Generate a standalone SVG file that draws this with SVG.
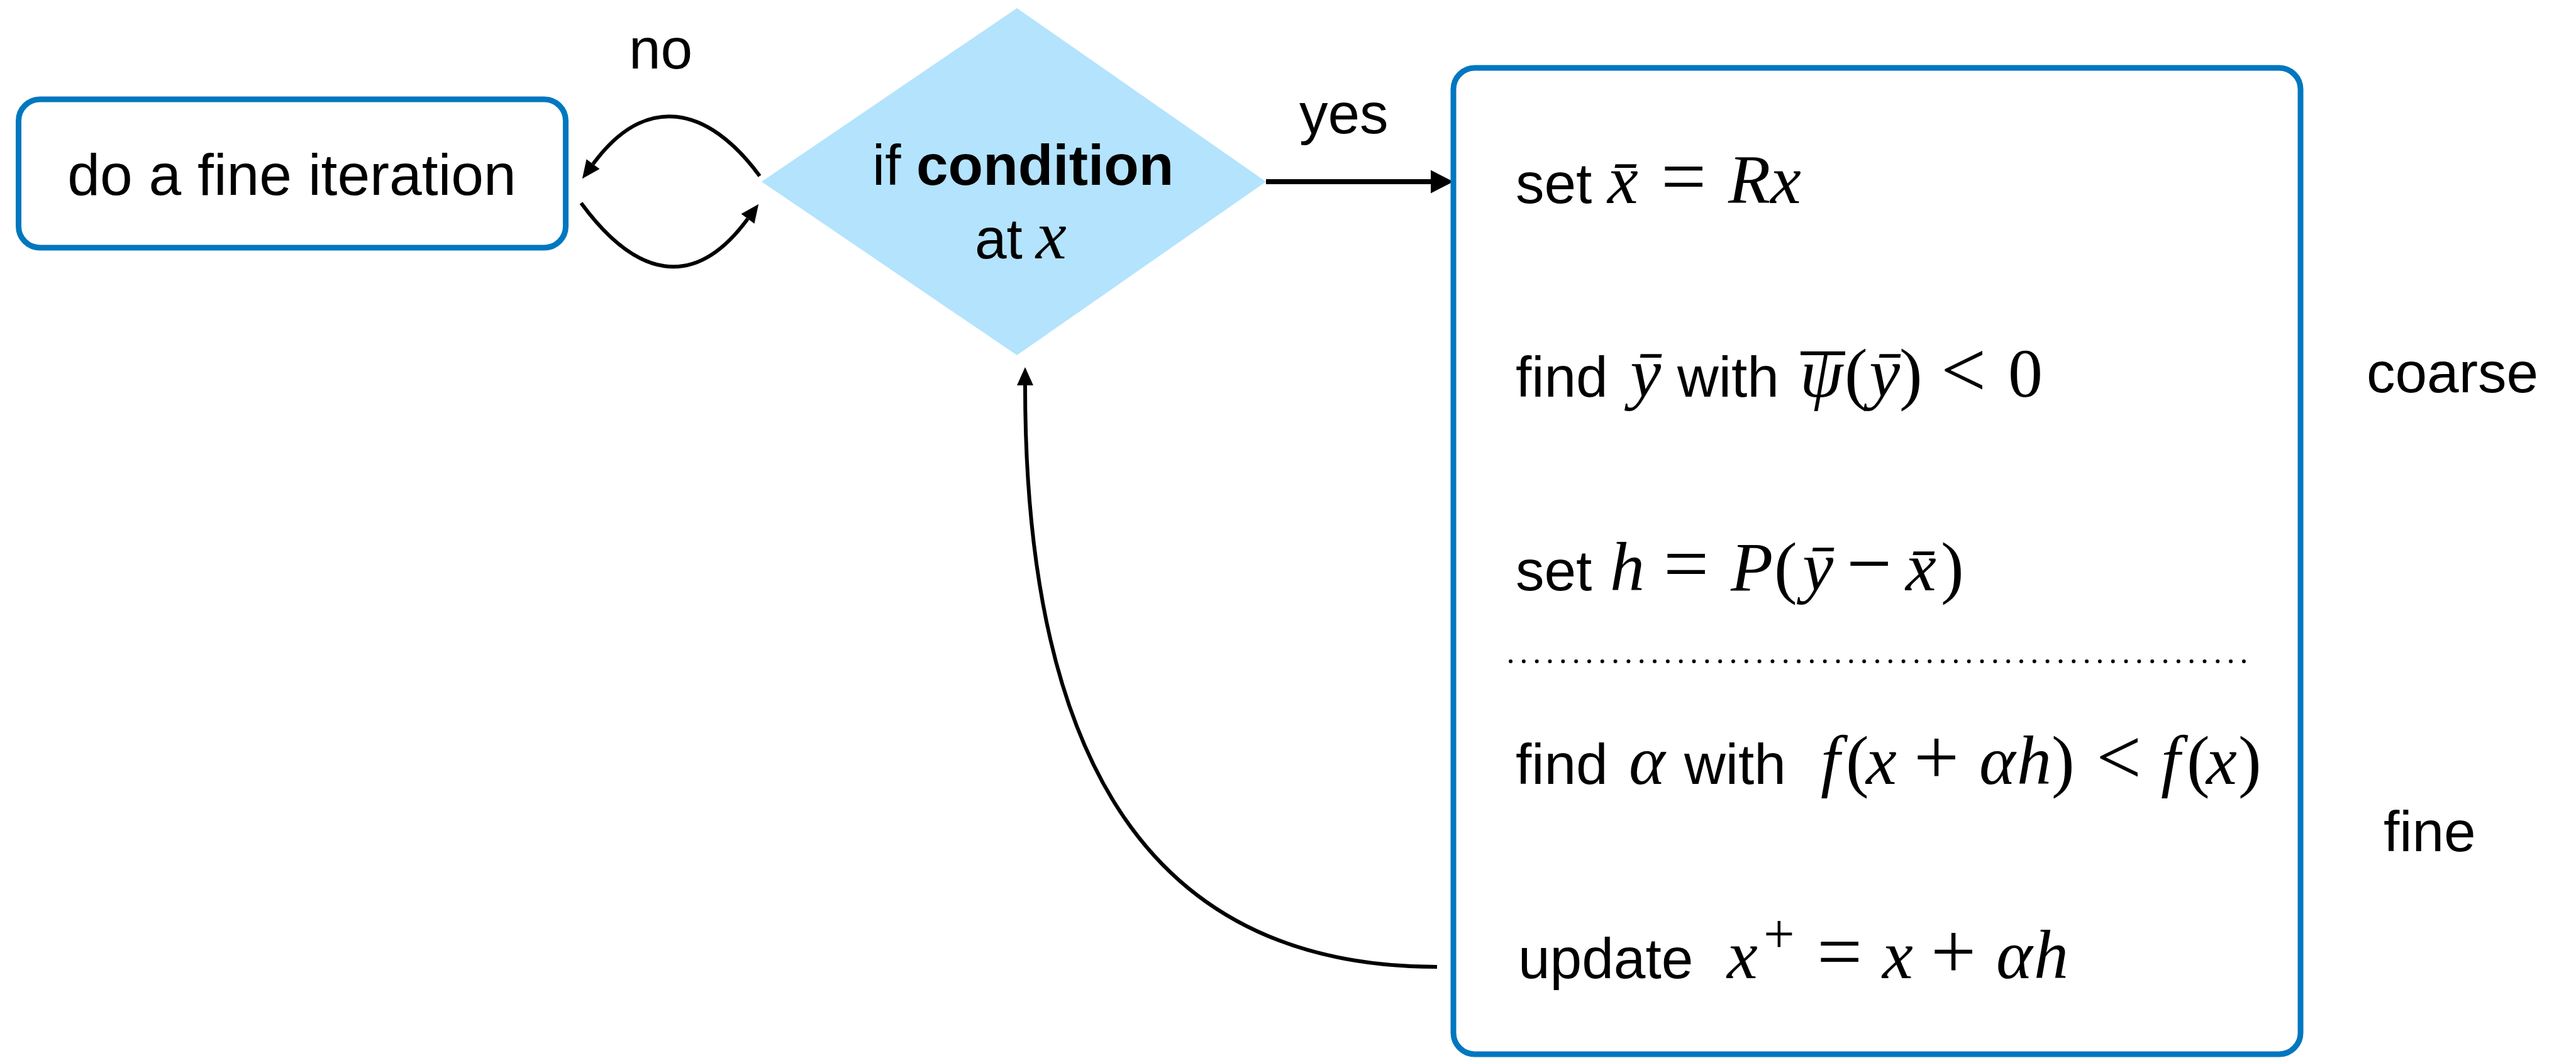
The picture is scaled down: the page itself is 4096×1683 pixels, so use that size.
<svg xmlns="http://www.w3.org/2000/svg" width="4096" height="1683" viewBox="0 0 4096 1683">
  <defs>
    <style>
      .box { fill: #ffffff; stroke: #0077bf; stroke-width: 9; }
      .dec { fill: #b3e3fd; stroke: none; }
      .t { font-family: "Liberation Sans", Arial, Helvetica, sans-serif; font-size: 91px; fill: #000; }
      .b { font-weight: bold; }
      .m { font-family: "Liberation Serif", "Times New Roman", serif; font-style: italic; font-size: 110px; }
      .u { font-family: "Liberation Serif", "Times New Roman", serif; font-style: normal; font-size: 110px; }
      .op { font-family: "Liberation Serif", "Times New Roman", serif; font-style: normal; font-size: 128px; }
      .bar { fill: #000; }
      .edge { fill: none; stroke: #000; stroke-width: 6; }
      .edge-bold { fill: none; stroke: #000; stroke-width: 8; }
      .sep { fill: none; stroke: #000; stroke-width: 6; stroke-linecap: round; stroke-dasharray: 0 20.82; }
    </style>
    <marker id="head" markerUnits="userSpaceOnUse" viewBox="-1 -16 32 32" markerWidth="32" markerHeight="32" refX="0" refY="0" orient="auto">
      <path d="M0,-13 L29,0 L0,13 Z" fill="#000"/>
    </marker>
    <marker id="head-big" markerUnits="userSpaceOnUse" viewBox="-1 -20 38 40" markerWidth="38" markerHeight="40" refX="0" refY="0" orient="auto">
      <path d="M0,-18.5 L36,0 L0,18.5 Z" fill="#000"/>
    </marker>
  </defs>

  <rect width="4096" height="1683" fill="#ffffff"/>

  <!-- connectors -->
  <g id="connectors">
    <!-- no: loop to the fine iteration and back -->
    <path class="edge" d="M1208,280 C1125,167 1026,148 943,261" marker-end="url(#head)"/>
    <path class="edge" d="M924,323 C1010,440 1103,465 1189,348" marker-end="url(#head)"/>
    <text class="t" x="1000" y="109">no</text>
    <!-- yes: into the two-level step -->
    <path class="edge-bold" d="M2013,289 L2275,289" marker-end="url(#head-big)"/>
    <text class="t" x="2066" y="212">yes</text>
    <!-- return from the update back to the test -->
    <path class="edge" d="M2285,1538 C1862,1538 1630,1256 1630,613" marker-end="url(#head)"/>
  </g>

  <!-- fine iteration node -->
  <g id="node-fine">
    <rect class="box" x="29.5" y="158" width="870" height="236" rx="34" ry="34"/>
    <text class="t" x="464" y="310" text-anchor="middle" style="font-size:93px">do a fine iteration</text>
  </g>

  <!-- decision node -->
  <g id="node-condition">
    <polygon class="dec" points="1617,13 2013,289 1617,565 1211,289"/>
    <text class="t" y="294"><tspan x="1387">if</tspan><tspan class="b" x="1457">condition</tspan></text>
    <text class="t" y="411"><tspan x="1550">at</tspan><tspan class="m" x="1647">x</tspan></text>
  </g>

  <!-- coarse / fine step node -->
  <g id="node-steps">
    <rect class="box" x="2311" y="108" width="1347" height="1569" rx="34" ry="34"/>

    <text class="t" y="323"><tspan x="2410">set</tspan><tspan class="m" x="2556">x̄</tspan><tspan class="op" x="2641">=</tspan><tspan class="m" x="2748">R</tspan><tspan class="m" x="2815">x</tspan></text>

    <text class="t" y="631"><tspan x="2410">find</tspan><tspan class="m" x="2592">ȳ</tspan><tspan x="2667">with</tspan><tspan class="m" x="2862">ψ</tspan><tspan class="u" x="2933">(</tspan><tspan class="m" x="2972">ȳ</tspan><tspan class="u" x="3020">)</tspan><tspan class="op" x="3086">&lt;</tspan><tspan class="u" x="3193">0</tspan></text>
    <!-- overbar on psi -->
    <rect class="bar" x="2863" y="559" width="71" height="6"/>

    <text class="t" y="939"><tspan x="2410">set</tspan><tspan class="m" x="2560">h</tspan><tspan class="op" x="2645">=</tspan><tspan class="m" x="2752">P</tspan><tspan class="u" x="2821">(</tspan><tspan class="m" x="2866">ȳ</tspan><tspan class="op" x="2936">−</tspan><tspan class="m" x="3030">x̄</tspan><tspan class="u" x="3086">)</tspan></text>

    <path class="sep" d="M2402,1052 L3570,1052"/>

    <text class="t" y="1247"><tspan x="2410">find</tspan><tspan class="m" x="2590">α</tspan><tspan x="2678">with</tspan><tspan class="m" x="2895">f</tspan><tspan class="u" x="2935">(</tspan><tspan class="m" x="2967">x</tspan><tspan class="op" x="3043">+</tspan><tspan class="m" x="3147">α</tspan><tspan class="m" x="3207">h</tspan><tspan class="u" x="3262">)</tspan><tspan class="op" x="3333">&lt;</tspan><tspan class="m" x="3436">f</tspan><tspan class="u" x="3477">(</tspan><tspan class="m" x="3508">x</tspan><tspan class="u" x="3559">)</tspan></text>

    <text class="t" y="1556"><tspan x="2414">update</tspan><tspan class="m" x="2746">x</tspan><tspan class="op" x="2804" y="1515" style="font-size:88px">+</tspan><tspan class="op" x="2889" y="1556">=</tspan><tspan class="m" x="2993">x</tspan><tspan class="op" x="3070">+</tspan><tspan class="m" x="3174">α</tspan><tspan class="m" x="3234">h</tspan></text>
  </g>

  <!-- level labels -->
  <g id="labels">
    <text class="t" x="3763" y="624">coarse</text>
    <text class="t" x="3790" y="1354">fine</text>
  </g>
</svg>
